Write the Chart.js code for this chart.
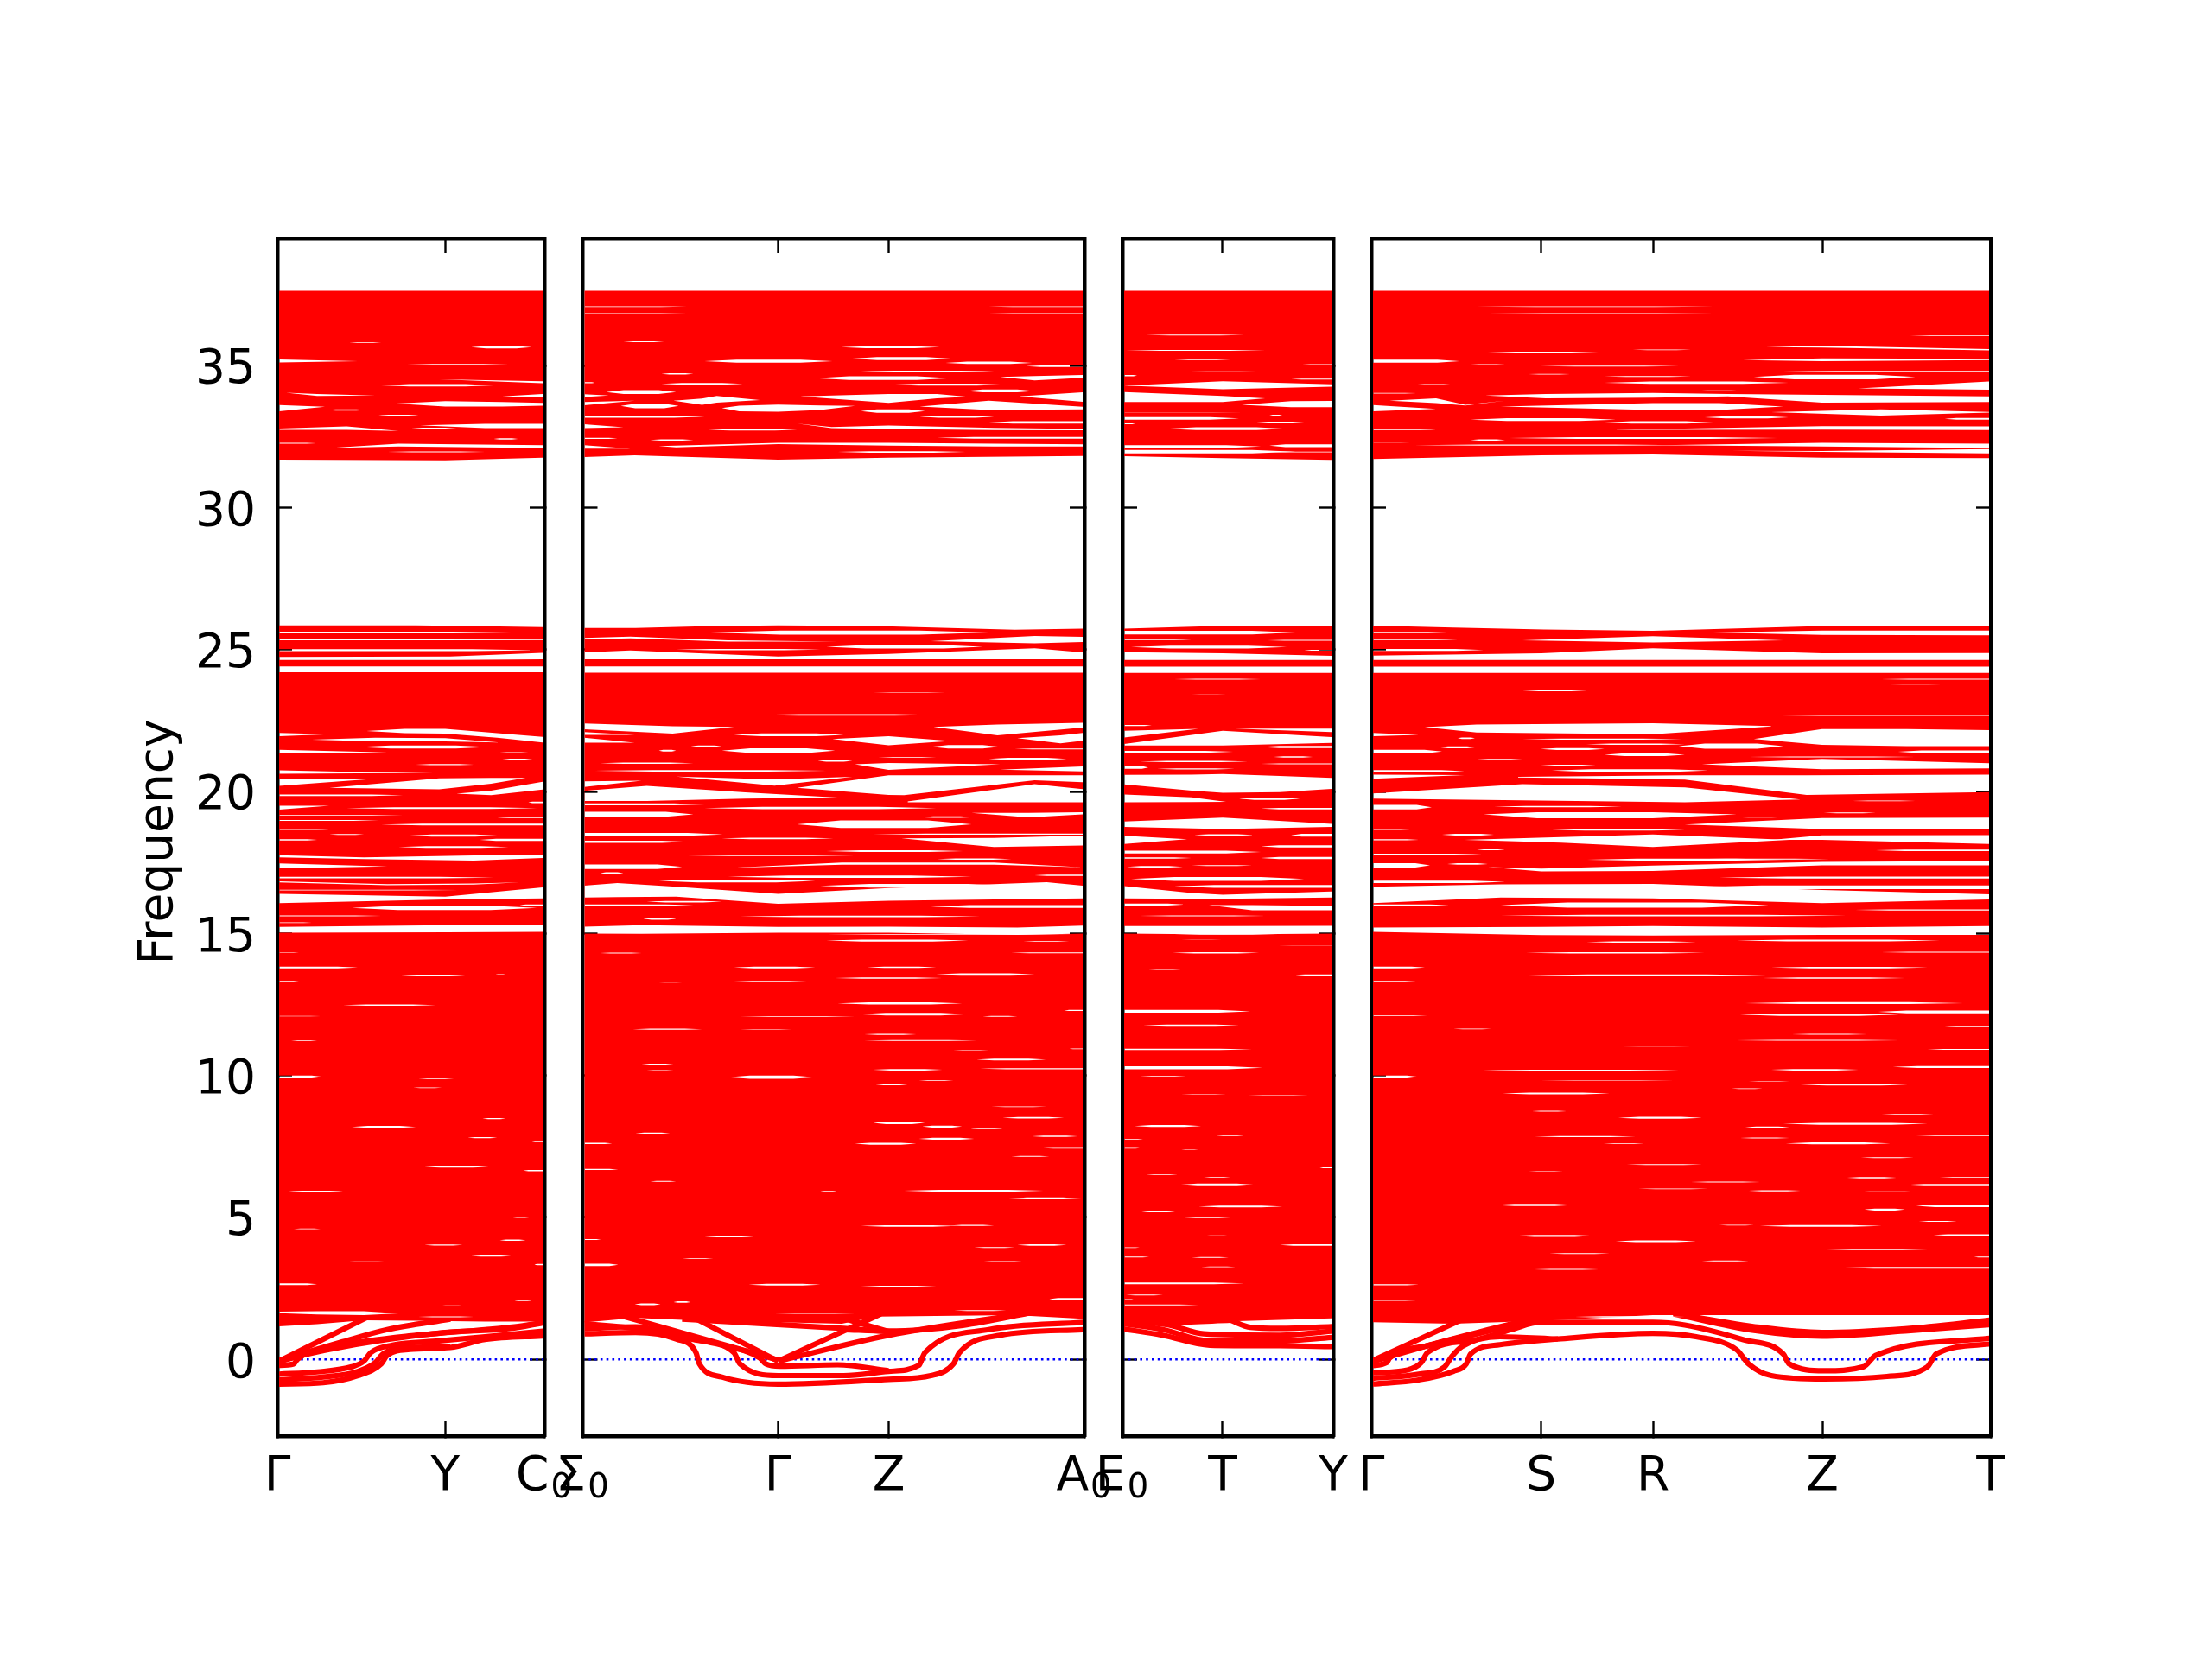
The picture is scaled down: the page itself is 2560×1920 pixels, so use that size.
<!DOCTYPE html>
<html>
<head>
<meta charset="utf-8">
<title>Frequency</title>
<script src="https://cdn.jsdelivr.net/npm/chart.js@4/dist/chart.umd.min.js"></script>
<style>
  html, body { margin: 0; background: #fff; }
  canvas { position: absolute; left: 0; top: 0; }
</style>
</head>
<body>
<canvas id="panel1"></canvas>
<canvas id="panel2"></canvas>
<canvas id="panel3"></canvas>
<canvas id="panel4"></canvas>
<script>
const yTickValues = [0, 5, 10, 15, 20, 25, 30, 35]
const yMin = -2.7
const yMax = 39.48

// k path ticks of every panel
const kTicks1 = [0, 1.94, 3.086]
const kLabels1 = ["Γ", "Y", "C"]
const kSubs1 = ["", "", "0"]
const kTicks2 = [0, 2.257, 3.543, 5.807]
const kLabels2 = ["Σ", "Γ", "Z", "A"]
const kSubs2 = ["0", "", "", "0"]
const kTicks3 = [0, 1.159, 2.438]
const kLabels3 = ["E", "T", "Y"]
const kSubs3 = ["0", "", ""]
const kTicks4 = [0, 1.969, 3.262, 5.224, 7.173]
const kLabels4 = ["Γ", "S", "R", "Z", "T"]
const kSubs4 = ["", "", "", "", ""]

// solid parts of the spectrum: [k, lower edge, upper edge]
const blocks1 = [
  [[0, .46, 1, 1.6, 2.4, 3.086], [1.16, 1.24, 1.38, 1.36, 1.33, 1.33], [25.85, 25.85, 25.85, 25.85, 25.82, 25.79]],
  [[0, 1.94, 3.086], [31.69, 31.67, 31.76], [37.64, 37.64, 37.64]]
]
const blocks2 = [
  [[0, .61, 1.4, 2.26, 3, 3.4, 5, 5.807], [1.3, 1.46, 1.36, 1.31, 1.26, 1.51, 1.56, 1.43], [25.76, 25.76, 25.82, 25.85, 25.84, 25.83, 25.7, 25.74]],
  [[0, .6, 2.26, 3.54, 5.807], [31.78, 31.84, 31.69, 31.76, 31.82], [37.64, 37.64, 37.64, 37.64, 37.64]]
]
const blocks3 = [
  [[0, 1.16, 2.438], [1.4, 1.33, 1.45], [25.74, 25.84, 25.85]],
  [[0, 1.16, 2.438], [31.81, 31.74, 31.68], [37.64, 37.64, 37.64]]
]
const blocks4 = [
  [[0, .95, 2, 3.26, 5.22, 7.173], [1.31, 1.26, 1.36, 1.56, 1.56, 1.56], [25.85, 25.78, 25.71, 25.66, 25.83, 25.83]],
  [[0, 1.97, 3.26, 5.22, 7.173], [31.71, 31.84, 31.87, 31.76, 31.74], [37.64, 37.64, 37.64, 37.64, 37.64]]
]

// open gaps between the bands: [k, lower edge, upper edge]
const gaps1 = [
  [[.6, 1.4, 3.09], [32.1, 32.15, 32.1], [32.1, 32.25, 32.2]],
  [[0, .8, 1.4], [32.74, 32.74, 32.7], [32.78, 32.86, 32.7]],
  [[1.65, 2.4, 3.09], [32.9, 32.8, 32.8], [32.9, 32.95, 32.95]],
  [[0, .55], [33.39, 33.55], [33.62, 33.55]],
  [[1.37, 1.94, 2.6, 3.09], [33.67, 33.56, 33.56, 33.59], [33.67, 33.75, 33.72, 33.69]],
  [[2.6, 3.09], [33.92, 33.89], [33.92, 34.01]],
  [[.1, .46, 1.13], [34.05, 33.93, 33.95], [34.05, 34, 33.95]],
  [[1.87, 3.09], [34.52, 34.38], [34.52, 34.45]],
  [[0, .93], [35.11, 35.16], [35.22, 35.16]],
  [[0, 1.9, 3.09], [25.33, 25.33, 25.34], [25.37, 25.37, 25.37]],
  [[0, 2, 3.09], [24.64, 24.64, 24.66], [24.74, 24.76, 24.89]],
  [[0, 3.09], [24.2, 24.2], [24.41, 24.41]],
  [[0, .6], [21.95, 22.02], [22.07, 22.02]],
  [[1.03, 1.47, 1.94, 2.54, 3.09], [22.13, 22.06, 22.04, 21.9, 21.72], [22.13, 22.21, 22.21, 22.06, 21.92]],
  [[.4, 1.13, 1.94, 2.57], [21.83, 21.77, 21.77, 21.73], [21.83, 21.9, 21.88, 21.73]],
  [[0, 1.27], [21.34, 21.38], [21.47, 21.38]],
  [[0, .93, 1.8], [20.63, 20.64, 20.66], [20.75, 20.69, 20.66]],
  [[0, 1.13], [20.2, 20.45], [20.43, 20.45]],
  [[.6, 1.87, 2.47, 2.87], [20.13, 20.08, 20.28, 20.48], [20.13, 20.47, 20.48, 20.48]],
  [[2.07, 2.47, 3.09], [19.93, 19.87, 20.08], [19.93, 20.03, 20.36]],
  [[0, .6], [19.36, 19.5], [19.5, 19.5]],
  [[0, 1, 2.27, 3.09], [17.68, 17.62, 17.57, 17.66], [17.76, 17.68, 17.75, 17.76]],
  [[0, 1.27], [17.29, 17.36], [17.47, 17.36]],
  [[0, 1.27, 2.27, 2.8], [16.8, 16.7, 16.72, 16.8], [16.84, 16.74, 16.76, 16.8]],
  [[0, 1.94, 3.09], [16.07, 16.2, 16.24], [16.4, 16.3, 16.63]],
  [[0, 1.94, 3.09], [15.03, 15.04, 15.06], [15.23, 15.29, 15.29]],
  [[0, .46, 1, 1.4], [1.63, 1.58, 1.56, 1.62], [1.68, 1.7, 1.7, 1.62]]
]
const gaps2 = [
  [[0, .55], [32.08, 32.08], [32.2, 32.08]],
  [[.88, 1.08, 2.26, 3.54, 4.76, 5.81], [32.17, 32.12, 32.24, 32.18, 32.15, 32.15], [32.17, 32.18, 32.28, 32.28, 32.25, 32.23]],
  [[0, .47], [32.8, 32.83], [32.94, 32.83]],
  [[2.48, 2.88, 3.54, 4.76, 5.81], [32.96, 32.8, 32.77, 32.73, 32.72], [32.96, 32.84, 32.89, 32.81, 32.77]],
  [[0, .6], [33.6, 33.77], [33.72, 33.77]],
  [[1.61, 1.81, 2.26, 2.75, 3.15], [33.51, 33.39, 33.38, 33.44, 33.58], [33.51, 33.59, 33.63, 33.6, 33.58]],
  [[3.9, 4.7, 5.81], [33.56, 33.44, 33.46], [33.56, 33.77, 33.55]],
  [[5.05, 5.81], [33.92, 33.72], [33.92, 34.07]],
  [[2.52, 3.54, 4.1, 4.46], [33.92, 33.69, 33.85, 33.9], [33.92, 34, 34, 33.9]],
  [[0, .3], [33.89, 33.95], [34, 33.95]],
  [[1.05, 1.38, 1.55, 2.05], [33.77, 33.62, 33.7, 33.79], [33.77, 33.84, 33.93, 33.79]],
  [[4.83, 5.23, 5.81], [34.6, 34.48, 34.58], [34.6, 34.63, 34.67]],
  [[0, .55, 1.68, 2.95], [25.36, 25.4, 25.28, 25.28], [25.41, 25.46, 25.33, 25.28]],
  [[4.03, 5.23, 5.81], [25.3, 25.22, 25.27], [25.3, 25.48, 25.45]],
  [[0, .55, 2.26, 3.54, 5.23, 5.81], [24.66, 24.66, 24.66, 24.66, 24.66, 24.66], [24.9, 24.97, 24.76, 24.85, 25.05, 24.9]],
  [[0, 5.81], [24.19, 24.19], [24.41, 24.41]],
  [[0, 1.04, 1.75], [22.2, 22.04, 22.28], [22.4, 22.3, 22.28]],
  [[0, .6], [22, 22], [22.1, 22]],
  [[2.89, 3.54, 4.26], [21.85, 21.63, 21.78], [21.85, 21.95, 21.78]],
  [[4.06, 4.8, 5.81], [22.28, 21.98, 22.26], [22.28, 22.36, 22.42]],
  [[5.03, 5.53, 5.81], [21.88, 21.7, 21.8], [21.88, 21.98, 22.07]],
  [[0, .6], [21.72, 21.72], [21.9, 21.72]],
  [[3.15, 3.54, 4.83], [20.96, 20.76, 20.96], [20.96, 21.01, 20.96]],
  [[4.83, 5.81], [20.77, 20.71], [20.77, 20.89]],
  [[1.08, 2.22, 3.12], [20.53, 20.21, 20.52], [20.53, 20.43, 20.52]],
  [[0, .68], [20.16, 20.38], [20.36, 20.38]],
  [[2.48, 3.54, 3.72, 5.23, 5.81], [20.13, 19.88, 19.87, 20.4, 20.33], [20.13, 20.57, 20.57, 20.57, 20.57]],
  [[0, .74, 1.88, 2.95], [19.67, 19.67, 19.75, 19.79], [20.02, 20.2, 19.97, 19.79]],
  [[3.76, 5.23, 5.81], [19.62, 19.62, 19.62], [19.65, 20.26, 20.08]],
  [[4.5, 5.16, 5.81], [19.25, 19.09, 19.2], [19.25, 19.25, 19.27]],
  [[3.69, 4.76, 5.81], [18.35, 18.05, 18.1], [18.35, 18.37, 18.45]],
  [[1.68, 3, 4.76, 5.81], [17.31, 17.42, 17.42, 17.33], [17.31, 17.5, 17.5, 17.33]],
  [[0, .4, 1.08, 2.26, 3.54, 5.37, 5.81], [16.27, 16.28, 16.3, 16.05, 16.15, 16.22, 16.24], [16.68, 16.78, 16.65, 16.4, 16.6, 16.81, 16.68]],
  [[0, .68, 2.26, 3.54, 5.03, 5.81], [15, 14.99, 15.03, 15.03, 14.95, 15], [15.24, 15.29, 15.23, 15.24, 15.21, 15.28]]
]
const gaps3 = [
  [[1.38, 1.95, 2.44], [33.62, 33.54, 33.54], [33.62, 33.75, 33.76]],
  [[0, 1.16, 1.65], [33.72, 33.72, 33.85], [34.07, 33.93, 33.85]],
  [[0, 1.16, 2.44], [34.3, 34.17, 34.26], [34.3, 34.45, 34.34]],
  [[0, 1.16, 2.44], [24.64, 24.64, 24.64], [24.91, 24.87, 24.78]],
  [[0, 2.44], [24.18, 24.18], [24.4, 24.4]],
  [[0, .88], [21.9, 22.21], [22.14, 22.21]],
  [[1.3, 2.44], [22.22, 22.09], [22.22, 22.22]],
  [[0, 1.16, 2.44], [21.62, 21.62, 21.72], [21.67, 22.14, 21.92]],
  [[0, .8, 1.16, 1.82, 2.44], [20.26, 20.03, 19.96, 19.98, 20.1], [20.59, 20.6, 20.62, 20.55, 20.48]],
  [[0, .8, 1.2], [19.62, 19.63, 19.64], [19.9, 19.8, 19.64]],
  [[0, 1.16, 2.44], [18.76, 18.68, 18.76], [18.94, 19.08, 18.86]],
  [[0, .75], [18.15, 18.32], [18.45, 18.32]],
  [[0, .8, 1.16, 2.44], [16.24, 16.22, 16.22, 16.27], [16.68, 16.43, 16.37, 16.48]],
  [[1, 1.5, 2.44], [16, 15.82, 15.82], [16, 16, 15.97]],
  [[0, 1.16, 2.44], [15, 14.97, 15], [15.26, 15.26, 15.27]]
]
const gaps4 = [
  [[4.17, 5.22, 7.18], [32, 31.96, 31.91], [32, 31.99, 32.06]],
  [[3.36, 5.22, 7.18], [32.2, 32.15, 32.1], [32.2, 32.28, 32.25]],
  [[2.76, 5.22, 7.18], [32.74, 32.75, 32.73], [32.74, 32.87, 32.86]],
  [[4.63, 5.9, 7.18], [33.36, 33.24, 33.35], [33.36, 33.46, 33.37]],
  [[1.5, 3.26, 4.03, 4.77], [33.56, 33.44, 33.44, 33.56], [33.56, 33.68, 33.68, 33.56]],
  [[0, .75], [33.39, 33.48], [33.62, 33.48]],
  [[.21, .75, 1.09, 1.55], [33.77, 33.68, 33.6, 33.77], [33.77, 33.85, 33.62, 33.77]],
  [[1.32, 2.02, 3.26, 4.13, 5.22, 7.18], [33.95, 33.85, 33.87, 33.92, 33.7, 33.72], [33.95, 34, 34.04, 34, 33.97, 33.92]],
  [[5.64, 7.18], [34.2, 34.15], [34.2, 34.45]],
  [[4.3, 5.22, 7.18], [35.2, 35.16, 35.2], [35.2, 35.26, 35.24]],
  [[4.57, 5.22, 7.18], [35.65, 35.64, 35.54], [35.65, 35.7, 35.58]],
  [[3.96, 5.22, 7.18], [25.6, 25.52, 25.5], [25.6, 25.67, 25.67]],
  [[1.75, 3.26, 4.77], [25.33, 25.25, 25.33], [25.33, 25.47, 25.33]],
  [[0, 1.97, 3.26, 5.22, 7.18], [24.64, 24.64, 24.64, 24.64, 24.64], [24.79, 24.87, 25.05, 24.87, 24.88]],
  [[0, 7.18], [24.18, 24.18], [24.4, 24.4]],
  [[.62, 1.22, 3.26, 4.63], [22.27, 22.08, 22.02, 22.29], [22.27, 22.36, 22.41, 22.31]],
  [[4.43, 5.22, 6.2, 7.18], [21.85, 21.65, 21.6, 21.6], [21.85, 22.2, 22.2, 22.16]],
  [[0, .55], [21.95, 22], [22.07, 22]],
  [[3.83, 5.22, 7.18], [20.96, 20.79, 20.82], [20.96, 21.15, 21]],
  [[0, 1.08], [20.45, 20.58], [20.6, 20.58]],
  [[1.7, 3.63, 5.04, 7.18], [20.5, 20.42, 19.88, 19.98], [20.52, 20.57, 20.57, 20.6]],
  [[0, 1.75, 3.63, 4.97], [19.75, 19.69, 19.62, 19.72], [19.93, 20.26, 20.15, 19.72]],
  [[1.3, 1.92, 3.26, 4.23], [19.2, 19.06, 19.06, 19.2], [19.2, 19.27, 19.27, 19.2]],
  [[3.63, 5.22, 7.18], [18.84, 18.68, 18.68], [18.84, 19.07, 19.08]],
  [[4.63, 5.22, 7.18], [18.3, 18.3, 18.15], [18.3, 18.46, 18.47]],
  [[1.08, 2.2, 3.26, 4.84], [18.3, 18.2, 18.05, 18.3], [18.3, 18.4, 18.49, 18.3]],
  [[1.35, 1.97, 3.26, 5.22, 7.18], [17.34, 17.19, 17.2, 17.4, 17.4], [17.34, 17.29, 17.39, 17.52, 17.55]],
  [[0, 1.5, 3.26, 5.22, 7.18], [16.07, 16.27, 16.24, 16.07, 16.2], [16.65, 16.73, 16.75, 16.53, 16.38]],
  [[0, 1.97, 3.26, 5.22, 7.18], [15.06, 14.94, 14.93, 14.95, 14.95], [15.21, 15.23, 15.26, 15.21, 15.26]]
]

// thin slits inside the bands: [k start, k end, frequency, thickness]
const slits1 = [
  [1.27, 2.4, 31.96, .03], [0, .45, 32.27, .03], [1.55, 2.07, 32.8, .03], [2.5, 2.78, 32.42, .04], [1.17, 1.63, 33.25, .05],
  [.56, 1.03, 33.44, .05], [1.2, 2.5, 34.31, .08], [1.5, 2.67, 35.05, .02], [2.24, 2.94, 35.65, .08], [.83, 1.2, 35.81, .02],
  [0, 2.7, 25.6, .05], [0, 3, 24.98, .07], [0, .7, 22.7, .02], [.93, 2.44, 21.57, .1], [2.57, 2.9, 21.37, .04], [2.6, 2.95, 21.13, .06],
  [1.6, 2.27, 20.95, .04], [0, 1.45, 19.87, .06], [2.9, 3.09, 19.62, .05], [.8, 3, 19.42, .06], [0, 1.45, 19.17, .03], [0, 1.17, 18.98, .03],
  [2.54, 3.09, 19.08, .03], [1.2, 3.09, 18.84, .06], [0, .6, 18.66, .02], [.6, 1, 18.49, .03], [1.53, 2.54, 18.45, .08], [2.34, 3.09, 18.3, .08],
  [0, .46, 18.3, .05], [1.4, 2.67, 18.05, .06], [0, 2.5, 16.97, .05], [0, 2.1, 16.53, .03], [2.8, 3.09, 16, .05], [.86, 3, 15.9, .15],
  [0, 1.2, 15.62, .03], [0, .4, 15.38, .02],
  [0, .25, 14.32, .02], [0, .93, 13.8, .06], [1.43, 2.17, 13.53, .04], [2.52, 2.64, 13.56, .02], [0, .25, 13.32, .02], [.76, 1.83, 12.48, .05],
  [0, .5, 12.09, .02], [.16, .46, 11.22, .02], [0, .53, 9.95, .1], [1.63, 2.04, 9.88, .02], [1.57, 1.9, 9.57, .02], [2.37, 2.64, 8.48, .04],
  [.86, 1.6, 8.19, .07], [2.2, 2.54, 7.81, .04], [2.94, 3.09, 7.66, .02], [2.91, 3.09, 7.23, .02], [1.7, 2.44, 6.78, .05], [2.84, 3.09, 6.65, .04],
  [.13, .76, 5.92, .04], [2.72, 2.91, 5, .03], [.19, .5, 4.6, .02], [1.7, 2.14, 4.03, .04], [2.57, 2.87, 4.2, .05], [2.24, 2.7, 3.64, .04],
  [.76, 1.3, 3.44, .03], [2.97, 3.09, 3.34, .04], [0, .46, 2.65, .06], [2.74, 2.94, 2.07, .03], [1.63, 2.27, 1.5, .03], [1.87, 2.17, 1.89, .02]
]
const slits2 = [
  [2.95, 4.43, 31.96, .05], [4.1, 5.81, 32.46, .06], [0, .4, 32.44, .04], [.78, 1.28, 32.38, .05], [1.45, 2.48, 32.74, .05], [4.7, 5.81, 33, .08],
  [0, 1.41, 33.2, .07], [3.9, 4.76, 33.2, .07], [.44, 1.11, 33.58, .16], [3.22, 3.96, 33.4, .12], [.27, 1.08, 34.07, .14], [4.43, 5.23, 34.11, .1],
  [0, .14, 34.4, .04], [.91, 1.85, 34.36, .06], [3.55, 4.9, 34.33, .07], [2.69, 4.26, 34.56, .13], [3.22, 4.76, 34.8, .05], [.91, 1.28, 34.71, .04],
  [1.41, 2.89, 35.16, .11], [3.12, 4.26, 35.25, .1], [4.2, 5.2, 35.1, .08], [5.13, 5.81, 34.98, .05], [2.99, 4.13, 35.65, .07], [.47, .94, 35.84, .03],
  [0, 1.2, 37.08, .02], [0, 1.2, 36.84, .02], [4.7, 5.81, 37.08, .02], [4.7, 5.81, 36.84, .02],
  [1.48, 4.7, 25.6, .14], [2.82, 4.63, 25.1, .12], [1.08, 2.75, 25, .05], [1.95, 4.16, 22.7, .05], [3.36, 4.2, 23.48, .01], [1.75, 3.02, 22, .1],
  [4.03, 4.83, 21.58, .12], [5, 5.81, 21.5, .03], [.88, 1.08, 21.44, .06], [1.25, 1.61, 21.6, .05], [1.61, 2.92, 21.44, .17], [2.72, 3.12, 21.08, .05],
  [4.7, 5.6, 21.15, .08], [3.42, 4.09, 21.2, .02], [.2, 1.28, 21, .05], [.14, 2.82, 20.73, .05], [0, 1.41, 19.55, .07], [1.41, 4.09, 19.42, .08],
  [0, 1.28, 19.2, .18], [2.48, 4.5, 18.85, .26], [3.9, 4.53, 19.1, .05], [0, 1.62, 18.49, .1], [1.61, 2.9, 18.35, .05], [3.36, 5.81, 18.5, .04],
  [0, 1.22, 18.23, .07], [2.82, 4.4, 17.9, .06], [1.21, 3.15, 17.75, .05], [4.1, 4.96, 17.62, .05], [0, 1.15, 17.35, .16], [.2, .47, 17.13, .05],
  [.88, 2.69, 16.85, .1], [1.68, 4.5, 17, .08], [2.75, 5.03, 16.68, .13], [5.23, 5.81, 17.05, .04], [.74, 1.61, 16.12, .05], [4.03, 5.81, 15.95, .1],
  [0, 1.28, 16, .05], [.7, 1.08, 15.52, .08], [1.82, 4.6, 15.6, .05],
  [.2, .68, 14.31, .03], [2.82, 4.46, 14.75, .07], [5.1, 5.63, 14.72, .02], [4.96, 5.81, 14.32, .03], [2.82, 5.7, 14.97, .03], [1.75, 2.69, 13.8, .06],
  [3.29, 4.09, 13.81, .04], [4.09, 5.23, 13.57, .06], [2.92, 4.16, 13.43, .05], [1.75, 2.59, 13.32, .02], [.88, 1.15, 13.28, .02], [2.95, 4.39, 12.54, .08],
  [3.19, 4.46, 12.16, .09], [5.57, 5.81, 12.29, .04], [4.63, 5.03, 12.08, .03], [1.82, 3.15, 12.08, .02], [.58, 1.38, 11.63, .04], [1.82, 2.42, 11.61, .02],
  [3.26, 3.86, 11.45, .04], [3.26, 4.56, 11.23, .03], [4.29, 4.7, 10.88, .02], [5.63, 5.81, 10.94, .02], [4.56, 5.36, 10.56, .06], [4.6, 5.81, 10.24, .04],
  [3.36, 4.16, 10.2, .05], [1.68, 2.69, 9.94, .11], [.68, 1.05, 10.4, .03], [.74, 1.05, 10.17, .03], [3.39, 3.76, 9.67, .03], [3.89, 4.29, 9.82, .02],
  [4.66, 5.13, 9.7, .02], [4.73, 5.37, 8.9, .02], [4.86, 5.57, 8.51, .05], [3.36, 3.96, 8.33, .08], [3.93, 4.39, 8.2, .07], [4.49, 4.86, 8.13, .04],
  [.61, 1.01, 7.97, .04], [0, .34, 7.61, .04], [3.15, 3.86, 7.6, .07], [3.89, 4.53, 7.77, .07], [5.2, 5.73, 7.86, .05], [5.33, 5.81, 7.44, .02],
  [4.96, 5.4, 7.15, .03], [0, .41, 6.69, .04], [.78, 1.08, 6.27, .03], [3.72, 5.33, 5.94, .07], [2.75, 2.94, 5.92, .03], [4.93, 5.77, 5.67, .07],
  [3.22, 4.33, 4.7, .05], [4.26, 4.76, 4.72, .04], [1.41, 1.98, 4.32, .04], [0, .21, 4.22, .03], [4.53, 5, 3.94, .03], [5.03, 5.6, 4.03, .05],
  [4.6, 5.13, 3.44, .04], [0, .41, 3.33, .08], [1.15, 1.51, 3.55, .03], [1.92, 2.75, 2.63, .06], [3.22, 4.09, 2.58, .03], [.6, .9, 1.94, .06],
  [1.05, 1.25, 2.02, .05], [5.4, 5.81, 2.12, .09], [2.22, 3.15, 1.62, .03], [4.3, 4.9, 1.72, .03]
]
const slits3 = [
  [0, 2, 31.97, .12], [1.7, 2.44, 31.96, .02], [0, 1.6, 32.15, .1], [1.7, 2.44, 32.18, .1], [.5, 1.9, 32.78, .1], [1.55, 2.1, 33.01, .03], [1.7, 1.85, 33.26, .03],
  [0, .15, 32.95, .03], [0, 1.35, 33.14, .09], [0, 1.4, 33.36, .01], [1.95, 2.44, 34.53, .03], [0, .17, 34.65, .05], [.78, 1.55, 34.79, .02],
  [0, .2, 35.02, .03], [2.08, 2.44, 35.04, .02], [.6, 1.25, 35.2, .02], [.04, 1.65, 35.54, .03], [.27, 1.41, 36.08, .03],
  [0, 2, 25.6, .13], [0, .8, 25.35, .03], [1.68, 2.44, 25.33, .03], [.1, 1.9, 25.09, .1], [2.1, 2.44, 24.98, .03], [.6, 1.6, 23.96, .03], [.8, 1.2, 23.43, .01],
  [0, .34, 22.33, .04], [1.6, 2.44, 21.57, .08], [1.75, 2.2, 21.22, .04], [0, 1.28, 21.4, .07], [.2, 1.45, 21.06, .05], [1.6, 2.44, 20.98, .03], [0, .3, 20.85, .1],
  [.4, 1.3, 20.8, .04], [1.35, 2.05, 19.75, .08], [1.6, 2.44, 19.4, .05], [.83, 1.5, 18.47, .05], [1.95, 2.44, 18.46, .1], [1.6, 2.44, 18.07, .07], [0, 1.6, 17.87, .1],
  [0, .8, 17.66, .05], [1.6, 2.44, 17.66, .07], [.8, 1.5, 17.39, .03], [.05, .7, 17.35, .05], [.1, 2.1, 16.92, .14], [.6, 2.44, 16.66, .1], [0, .7, 16.02, .07],
  [0, .3, 15.76, .03], [.2, 1.65, 15.62, .03],
  [.6, 1.8, 14.97, .03], [.68, 1.15, 14.78, .01], [1.8, 2.44, 14.56, .01], [.58, 1.58, 14.32, .04], [.3, .68, 13.71, .02], [2, 2.44, 13.54, .04], [0, 1.48, 12.26, .1],
  [.24, 1.35, 11.77, .05], [0, 1.5, 10.92, .05], [0, 1.62, 10.27, .11], [.2, .74, 9.97, .02], [1.45, 2.15, 9.29, .03], [.68, 1.2, 9.33, .02], [.14, .91, 8.22, .07],
  [0, .24, 7.75, .03], [0, .2, 7.44, .02], [.68, .88, 7.38, .02], [1.08, 1.41, 7.87, .02], [2.28, 2.44, 6.75, .03], [.94, 1.25, 6.41, .02], [.64, 1.55, 6.15, .09],
  [.27, .64, 6.5, .02], [.88, 1.85, 5.39, .06], [.22, .61, 5.2, .04], [.71, 1.25, 4.98, .02], [.94, 1.25, 4.35, .03], [1.82, 2.44, 4.03, .05], [0, .2, 3.94, .02],
  [0, .31, 3.61, .03], [.8, 1.23, 3.59, .03], [.91, 1.31, 3.26, .02], [0, 1.41, 2.68, .06], [.04, .47, 2.27, .03], [0, .14, 2.1, .04], [0, .88, 1.92, .03]
]
const slits4 = [
  [.5, 3.6, 32.2, .04], [0, .3, 32.1, .02], [0, .45, 32.27, .01], [1.6, 4.7, 32.45, .06], [1.15, 1.55, 32.38, .05], [0, .75, 32.75, .04], [6.64, 7.18, 33.13, .06],
  [3.86, 4.83, 33.18, .07], [2.7, 3.96, 33, .08], [1.15, 2.83, 33.1, .1], [2.7, 4.83, 34.4, .08], [.5, .95, 34.33, .04], [0, .52, 34.03, .02], [3.76, 4.3, 34.12, .03],
  [4.43, 6.3, 34.6, .16], [2.7, 3.7, 34.62, .03], [1.82, 2.3, 34.7, .02], [4.77, 7.18, 34.8, .03], [1.96, 3.56, 34.98, .03], [1.15, 1.55, 35.06, .02], [0, 1.02, 35.16, .11],
  [1.35, 2.63, 35.46, .06], [3.03, 3.7, 35.56, .02], [6.24, 7.18, 36.06, .03], [1.22, 3.96, 37.08, .02], [1.35, 3.96, 36.84, .02],
  [0, .88, 25.6, .04], [0, 1, 25.35, .03], [0, 1.3, 24.99, .07], [5.9, 7.18, 23.96, .03], [1.75, 2.5, 23.55, .03], [6, 6.6, 23.76, .01], [4.53, 7.18, 22.69, .05],
  [0, .35, 22.7, .01], [1, 1.2, 21.88, .05], [1.75, 3.6, 21.85, .04], [.78, 1.22, 21.56, .07], [1.96, 2.7, 21.5, .07], [2.7, 3.63, 21.3, .1], [2.49, 3.63, 21.67, .05],
  [3.56, 4.77, 21.6, .18], [6.1, 7.18, 21.4, .1], [4.37, 6.3, 21.22, .03], [0, .82, 21.41, .13], [1.22, 1.75, 21.15, .02], [1.96, 2.6, 20.93, .03], [2.09, 3.9, 20.74, .1],
  [0, 1.08, 20.72, .07], [5.57, 6.3, 19.67, .02], [1.42, 2.9, 19.47, .05], [0, .7, 19.45, .16], [4.23, 4.77, 19.1, .04], [5.24, 5.84, 19.25, .03], [2.09, 3.63, 18.65, .05],
  [.82, 1.42, 18.48, .06], [0, .55, 18.3, .04], [0, .45, 18.64, .02], [5.84, 7.18, 17.93, .05], [1.82, 2.49, 17.98, .03], [1.22, 1.55, 17.95, .03], [0, 1.28, 17.79, .05],
  [2.5, 4.8, 17.6, .07], [3.7, 5.3, 17.62, .03], [.88, 1.35, 17.45, .05], [0, .68, 17.4, .15], [4.03, 7.18, 16.97, .07], [3.63, 7.18, 16.63, .13], [0, 1.55, 16.82, .08],
  [0, .9, 16.55, .03], [1.5, 4.6, 16, .18], [0, .9, 16, .05], [5.6, 7.18, 15.83, .04], [1.5, 5.5, 15.63, .05],
  [2.49, 3.76, 14.7, .04], [4.23, 6.58, 14.75, .06], [1.79, 3.86, 14.32, .04], [5.9, 7.18, 14.34, .03], [0, .62, 13.8, .06], [4.63, 6.44, 13.8, .05], [1.82, 4.57, 13.53, .05],
  [4.53, 6.18, 13.43, .05], [0, .52, 13.32, .02], [4.33, 6.85, 12.55, .07], [4.27, 6.11, 12.14, .08], [5.87, 7.18, 12.24, .1], [0, .65, 12.1, .02], [6.64, 7.18, 11.73, .03],
  [.95, 1.39, 11.64, .02], [4.87, 5.74, 11.45, .03], [4.23, 6.11, 11.24, .03], [2.9, 3.7, 11, .01], [6.44, 7.18, 10.92, .03], [1.29, 3.56, 10.18, .04], [4.63, 5.64, 10.2, .06],
  [6.04, 7.18, 10.3, .07], [0, .55, 9.95, .1], [1.96, 3.5, 9.83, .02], [4.97, 6.21, 9.67, .05], [4.37, 4.84, 9.8, .02], [1.52, 2.76, 9.37, .06], [4.17, 4.53, 9.54, .02],
  [1.86, 2.26, 8.74, .03], [2.86, 3.83, 8.51, .07], [5.91, 6.51, 8.64, .03], [4.77, 6.44, 8.3, .07], [4.33, 4.84, 8.18, .05], [1.89, 3.06, 7.85, .04], [4.27, 4.84, 7.8, .03],
  [4.8, 6.01, 7.61, .07], [6.31, 7.18, 7.87, .02], [2.69, 3.16, 7.6, .02], [5.67, 6.28, 7.11, .03], [2.96, 3.83, 6.86, .03], [1.82, 2.22, 6.62, .02], [5.51, 6.08, 6.4, .04],
  [6.58, 7.18, 6.41, .02], [3.7, 4.5, 6.25, .03], [6.14, 7.18, 6.14, .08], [1.89, 2.83, 5.89, .02], [3.09, 3.9, 6.01, .02], [4.37, 4.97, 5.94, .04], [5.57, 6.38, 5.9, .04],
  [1.42, 2.36, 5.44, .08], [6.31, 7.18, 5.41, .09], [5.71, 6.18, 5.28, .07], [6.34, 6.78, 4.86, .03], [4.03, 4.43, 4.73, .02], [4.5, 5.91, 4.7, .06], [1.65, 2.59, 4.35, .07],
  [6.51, 7.18, 4.38, .05], [2.83, 3.76, 4.16, .06], [5.27, 6.44, 3.87, .04], [2.06, 2.76, 3.73, .03], [3.83, 4.37, 3.47, .03], [6.98, 7.18, 3.61, .03], [5.37, 7.18, 3.23, .06],
  [1.89, 2.63, 3.17, .03], [0, .55, 2.63, .04], [0, .52, 2.07, .02], [2.36, 3.63, 1.5, .05]
]

// single low bands below the solid part: [k, frequency] pairs
const curves1 = [
  [[0, -.09], [1.05, 1.5]],
  [[0, -.05], [.73, .6], [1.27, 1.05], [2, 1.42]],
  [[0, -.06], [.6, .35], [1.27, .7], [1.94, .95], [2.67, 1.08], [3.09, 1.3]],
  [[0, -.09], [.73, .5], [1.6, .85], [2.4, 1.05], [2.74, 1.15], [3.09, 1.3]],
  [[0, -.87], [.53, -.82], [.93, -.57], [1.2, -.16], [1.27, .14], [1.53, .35], [2, .42], [2.4, .7], [3.09, .83]],
  [[0, -.72], [.53, -.62], [.93, -.42], [1.13, -.12], [1.22, .19], [1.5, .42], [2, .44]],
  [[0, -.52], [.46, -.44], [.86, -.26], [1, -.06], [1.08, .24], [1.33, .5], [1.87, .65], [2.4, .8], [3.09, 1]],
  [[0, -.21], [.19, -.16], [.23, 0], [.73, .5]]
]
const curves2 = [
  [[0, .9], [.61, .95], [1.08, .72], [1.31, .24], [1.35, -.16], [1.61, -.62], [2.26, -.87], [3.54, -.7], [4.03, -.57], [4.29, -.16], [4.36, .24], [4.83, .85], [5.81, 1.05]],
  [[0, 1.26], [.61, 1.09], [1.28, .7], [1.75, .24], [1.82, -.16], [2.26, -.57], [3.02, -.57], [3.54, -.42], [3.89, -.21], [3.96, .24], [4.7, 1.05], [5.81, 1.31]],
  [[0, 1.08], [.61, 1.15], [1.1, .85]],
  [[.61, 1.05], [1.61, .5], [2.05, .05], [2.12, -.16], [2.28, -.24], [2.95, -.19], [3.54, -.4]],
  [[1.3, 1.45], [2.26, -.06]],
  [[2.26, -.06], [3.45, 1.6]],
  [[2.26, -.06], [3.54, .85], [5.2, 1.65]],
  [[.48, 1.51], [2.26, -.02]],
  [[3.02, 1.05], [3.54, 1], [4.4, 1.2], [5.2, 1.65]],
  [[1.15, 1.42], [3.02, 1.09], [3.54, .98]],
  [[2.9, 1.55], [3.54, .98]]
]
const curves3 = [
  [[0, 1.08], [.47, .85], [1.01, .5], [1.82, .48], [2.44, .45]],
  [[0, 1.26], [.47, 1.05], [1.01, .65], [1.82, .65], [2.44, .78]],
  [[0, 1.36], [.54, 1.21], [.94, .9], [1.82, .85], [2.44, 1]],
  [[1.25, 1.38], [1.48, 1.13], [1.82, 1.09], [2.44, 1.16]],
  [[0, 1.39], [.61, 1.31], [1.25, 1.38]]
]
const curves4 = [
  [[0, -.87], [.55, -.72], [.95, -.42], [1.1, -.16], [1.15, .19], [1.49, .52], [2.16, .72], [3.26, .92], [3.76, .8], [4.23, .34], [4.37, -.16], [4.63, -.57], [5.24, -.69], [5.97, -.6], [6.44, -.26], [6.54, .19], [7.18, .55]],
  [[0, -.67], [.55, -.52], [.85, -.26], [.93, .09], [1.05, .45], [1.49, .8], [2.16, .72]],
  [[0, -.47], [.42, -.37], [.58, -.11], [.65, .24], [1.22, .7], [1.62, 1.05], [1.96, 1.31], [3.26, 1.31], [3.63, 1.21], [4.3, .7], [4.77, .19], [4.84, -.16], [5.24, -.4], [5.7, -.26], [5.84, .14], [7.18, .75]],
  [[0, -.22], [.18, -.11], [.21, .04], [.68, .5], [1.22, .9], [1.9, 1.45]],
  [[0, -.06], [1.05, 1.4]],
  [[0, -.04], [1.29, 1], [1.9, 1.45]],
  [[0, -.09], [.8, .6], [1.49, 1.1], [1.75, 1.31]],
  [[3.5, 1.62], [4.5, 1.13], [5.22, .95], [6.18, 1.08], [7.18, 1.39]],
  [[3.5, 1.6], [4.43, 1.02], [5.22, .82], [6.18, 1], [7.18, 1.23]]
]

// page layout in px: left and right edge of each frame, then top and bottom
const frameEdges = [[321, 630], [674.5, 1255], [1299, 1543], [1587, 2304]]
const frameTop = 276
const frameBottom = 1662
const pageW = 2560
const pageH = 1920

const red = "#ff0000"
const fontName = "'DejaVu Sans'"
const fontSize = 55
const subSize = 38.5
const subBaseline = 1733

function pts(xs, ys) {
  return xs.map((x, i) => ({ x: x, y: ys[i] }))
}

// a slit is a narrow lens; it stays open where it reaches the frame
function slitToGap(slit, kEnd) {
  const [a, b, f, t] = slit
  const w = b - a
  const lo = f - t / 2
  const hi = f + t / 2
  const xs = [a, a + w * .25, a + w * .75, b]
  const openLeft = a <= 0
  const openRight = b >= kEnd - .02
  return [xs, [openLeft ? lo : f, lo, lo, openRight ? lo : f], [openLeft ? hi : f, hi, hi, openRight ? hi : f]]
}

function edgePair(band, color) {
  const base = { pointRadius: 0, borderWidth: 0, clip: -2 }
  return [
    { ...base, data: pts(band[0], band[1]), fill: false },
    { ...base, data: pts(band[0], band[2]), fill: "-1", backgroundColor: color }
  ]
}

function buildDatasets(blocks, gaps, slits, curves, kEnd) {
  const holes = gaps.concat(slits.map(s => slitToGap(s, kEnd)))
  const sets = []
  holes.forEach(h => sets.push(...edgePair(h, "#000")))
  const holeSets = sets.length
  curves.forEach(c => sets.push({
    data: c.map(p => ({ x: p[0], y: p[1] })),
    borderColor: red, borderWidth: 6.2, pointRadius: 0, fill: false, clip: -2,
    cubicInterpolationMode: "monotone", borderJoinStyle: "round"
  }))
  blocks.forEach(b => sets.push(...edgePair(b, red)))
  sets.push({
    data: [{ x: 0, y: 0 }, { x: kEnd, y: 0 }],
    borderColor: "#0000ff", borderWidth: 2.6, borderDash: [2.6, 4.2], pointRadius: 0, fill: false, clip: -2
  })
  return { sets, holeSets }
}

function frameAxis(extra) {
  return Object.assign({
    type: "linear",
    border: { display: true, color: "#000", width: 4.5, z: 1 },
    grid: { z: 1, drawOnChartArea: false, drawTicks: true, tickLength: -17, tickWidth: 2.4, tickColor: "#000" }
  }, extra)
}

function drawPanel(id, index, kTicks, kLabels, kSubs, blocks, gaps, slits, curves) {
  const kEnd = kTicks[kTicks.length - 1]
  const { sets, holeSets } = buildDatasets(blocks, gaps, slits, curves, kEnd)
  const [left, right] = frameEdges[index]
  const font = { family: fontName, size: fontSize }
  const kTickList = s => { s.ticks = kTicks.map(v => ({ value: v })) }
  const yTickList = s => { s.ticks = yTickValues.map(v => ({ value: v })) }

  const canvas = document.getElementById(id)
  canvas.width = pageW
  canvas.height = pageH

  new Chart(canvas, {
    type: "line",
    data: { datasets: sets },
    options: {
      responsive: false,
      animation: false,
      devicePixelRatio: 1,
      events: [],
      layout: { padding: 0 },
      elements: { line: { tension: 0 } },
      plugins: { legend: { display: false }, tooltip: { enabled: false } },
      scales: {
        x: frameAxis({
          axis: "x", position: "bottom", min: 0, max: kEnd,
          afterBuildTicks: kTickList,
          afterFit: s => { s.height = pageH - frameBottom },
          ticks: {
            z: 1, color: "#000", font: font, padding: 32, maxRotation: 0, autoSkip: false,
            // an en space keeps the letter and its subscript centred on the tick
            callback: (v, i) => kSubs[i] ? kLabels[i] + "\u2002" : kLabels[i]
          }
        }),
        xTop: frameAxis({
          axis: "x", position: "top", min: 0, max: kEnd,
          afterBuildTicks: kTickList,
          afterFit: s => { s.height = frameTop },
          ticks: { display: false, autoSkip: false }
        }),
        y: frameAxis({
          axis: "y", position: "left", min: yMin, max: yMax,
          afterBuildTicks: yTickList,
          afterFit: s => { s.width = left },
          title: {
            display: index === 0, text: "Frequency\u2009", color: "#000", font: font,
            padding: { top: 152, bottom: 0 }
          },
          ticks: {
            display: index === 0, z: 1, color: "#000", font: font, padding: 42, labelOffset: 6,
            autoSkip: false, callback: v => String(v)
          }
        }),
        yRight: frameAxis({
          axis: "y", position: "right", min: yMin, max: yMax,
          afterBuildTicks: yTickList,
          afterFit: s => { s.width = pageW - right },
          ticks: { display: false, autoSkip: false }
        })
      }
    },
    plugins: [{
      // gaps are cut out of the red, frame and ticks go underneath it
      id: "layering",
      afterDatasetDraw(chart, args) {
        if (args.index === holeSets) chart.ctx.globalCompositeOperation = "destination-out"
      },
      afterDatasetsDraw(chart) {
        chart.ctx.globalCompositeOperation = "destination-over"
      },
      afterDraw(chart) {
        const ctx = chart.ctx
        ctx.globalCompositeOperation = "source-over"
        // subscripts of the k labels
        ctx.save()
        ctx.fillStyle = "#000"
        ctx.textBaseline = "alphabetic"
        ctx.textAlign = "left"
        kSubs.forEach((sub, i) => {
          if (!sub) return
          ctx.font = fontSize + "px " + fontName
          const w = ctx.measureText(kLabels[i]).width
          const px = chart.scales.x.getPixelForValue(kTicks[i])
          ctx.font = subSize + "px " + fontName
          ctx.fillText(sub, px - fontSize / 4 + w / 2 + 2, subBaseline)
        })
        ctx.restore()
      }
    }]
  })
}

drawPanel("panel1", 0, kTicks1, kLabels1, kSubs1, blocks1, gaps1, slits1, curves1)
drawPanel("panel2", 1, kTicks2, kLabels2, kSubs2, blocks2, gaps2, slits2, curves2)
drawPanel("panel3", 2, kTicks3, kLabels3, kSubs3, blocks3, gaps3, slits3, curves3)
drawPanel("panel4", 3, kTicks4, kLabels4, kSubs4, blocks4, gaps4, slits4, curves4)
</script>
</body>
</html>
